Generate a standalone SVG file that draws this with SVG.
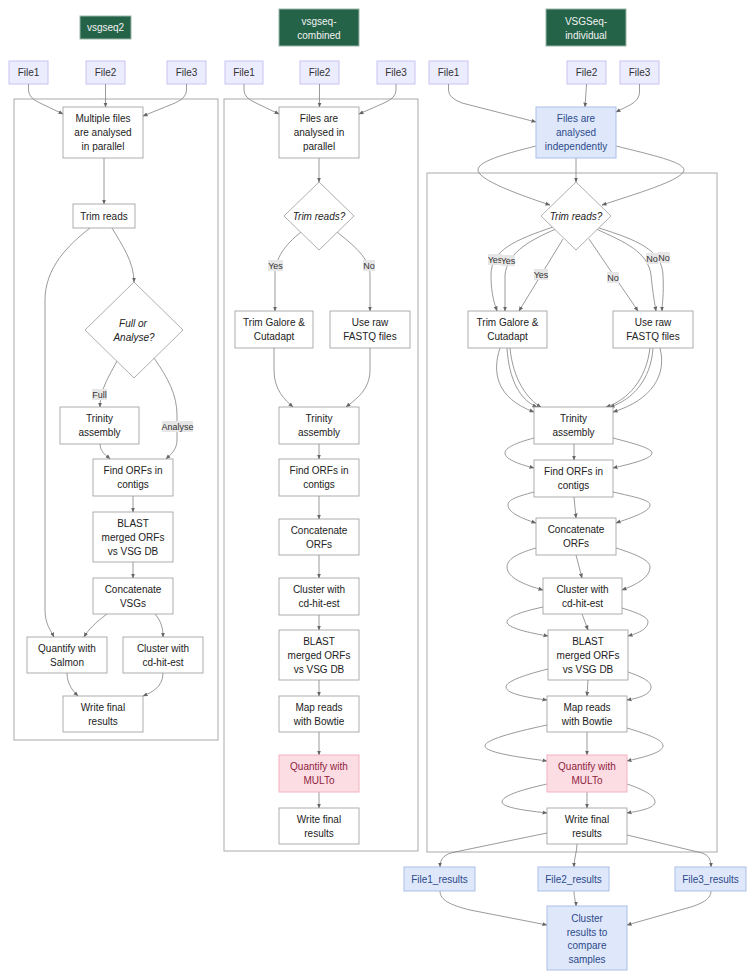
<svg xmlns="http://www.w3.org/2000/svg" width="756" height="980" viewBox="0 0 756 980">
<defs>
<marker id="ah" viewBox="0 0 10 10" refX="9" refY="5" markerWidth="5" markerHeight="5" markerUnits="userSpaceOnUse" orient="auto">
<path d="M0,1 L10,5 L0,9 z" fill="#666"/>
</marker>
</defs>
<style>
text{font-family:"Liberation Sans",Arial,sans-serif;font-size:10px;fill:#222;text-anchor:middle;dominant-baseline:central}
.title rect{fill:#246348;stroke:#9ab5a8;stroke-width:1}
.title text{fill:#f2f2f2}
.file rect{fill:#ececff;stroke:#c9c2f2;stroke-width:1}
.file text{fill:#333}
.cluster{fill:#fff;stroke:#aaa;stroke-width:1}
.n rect,.n polygon{fill:#fff;stroke:#999;stroke-width:0.8}
.d text{font-style:italic}
.blue rect{fill:#dfe8fb;stroke:#a9bfe8;stroke-width:1}
.blue text{fill:#2d4a8a}
.pink rect{fill:#fddde4;stroke:#f3b2c2;stroke-width:1}
.pink text{fill:#8e1d3e}
#edges path{fill:none;stroke:#808080;stroke-width:0.8;marker-end:url(#ah)}
.lbl rect{fill:#e6e6e6}
.lbl text{font-size:9px;fill:#333}
</style>
<rect width="756" height="980" fill="#fff"/>

<!-- clusters -->
<rect class="cluster" x="14" y="99" width="204" height="641"/>
<rect class="cluster" x="224" y="99" width="194" height="752"/>
<rect class="cluster" x="427" y="173" width="290" height="679"/>

<!-- titles -->
<g id="t1" class="title"><rect x="80" y="16" width="51" height="23"/><text x="105.5" y="27.5">vsgseq2</text></g>
<g id="t2" class="title"><rect x="279" y="9" width="80" height="37"/><text x="319" y="21">vsgseq-</text><text x="319" y="35">combined</text></g>
<g id="t3" class="title"><rect x="546" y="9" width="80" height="37"/><text x="586" y="21">VSGSeq-</text><text x="586" y="35">individual</text></g>

<!-- files -->
<g id="c1f1" class="file"><rect x="9" y="61" width="39" height="23"/><text x="28.5" y="72.5">File1</text></g>
<g id="c1f2" class="file"><rect x="86" y="61" width="39" height="23"/><text x="105.5" y="72.5">File2</text></g>
<g id="c1f3" class="file"><rect x="167" y="61" width="39" height="23"/><text x="186.5" y="72.5">File3</text></g>
<g id="c2f1" class="file"><rect x="225" y="61" width="38" height="23"/><text x="244" y="72.5">File1</text></g>
<g id="c2f2" class="file"><rect x="300" y="61" width="39" height="23"/><text x="319.5" y="72.5">File2</text></g>
<g id="c2f3" class="file"><rect x="377" y="61" width="38" height="23"/><text x="396" y="72.5">File3</text></g>
<g id="c3f1" class="file"><rect x="429" y="61" width="39" height="23"/><text x="448.5" y="72.5">File1</text></g>
<g id="c3f2" class="file"><rect x="567" y="61" width="39" height="23"/><text x="586.5" y="72.5">File2</text></g>
<g id="c3f3" class="file"><rect x="620" y="61" width="39" height="23"/><text x="639.5" y="72.5">File3</text></g>

<!-- edges -->
<g id="edges">
<!-- col1 -->
<path d="M28.5,84 V90 Q28.5,98 40,103 L63,114"/>
<path d="M105.5,84 V107"/>
<path d="M186.5,84 V90 Q186.5,98 175,103 L143,116"/>
<path d="M104,158 V204"/>
<path d="M90,228 C68,245 45,268 45,300 V610 C45,624 51,631 54,637"/>
<path d="M112,228 C122,245 134,262 134,282"/>
<path d="M117,361 C108,378 100,390 100,407"/>
<path d="M154,358 C168,378 177,395 177,415 V440 C177,450 170,455 166,459"/>
<path d="M100,444 C100,452 107,456 110,459"/>
<path d="M133,496 V512"/>
<path d="M133,562 V578"/>
<path d="M107,614 C96,622 88,630 84,637"/>
<path d="M155,614 C162,622 163,630 163,637"/>
<path d="M67,673 C67,685 74,692 78,696"/>
<path d="M163,673 C163,688 150,693 143,696"/>
<!-- col2 -->
<path d="M244,84 V90 Q244,98 256,103 L279,114"/>
<path d="M319.5,84 V107"/>
<path d="M396,84 V90 Q396,98 384,103 L359,114"/>
<path d="M319,158 V182"/>
<path d="M301,232 C285,245 275,258 275,275 V311"/>
<path d="M337,232 C353,245 370,258 370,275 V311"/>
<path d="M274,348 V370 C274,390 285,400 293,407"/>
<path d="M370,348 V370 C370,390 355,400 346,407"/>
<path d="M319,444 V459"/>
<path d="M319,496 V519"/>
<path d="M319,555 V578"/>
<path d="M319,615 V630"/>
<path d="M319,680 V696"/>
<path d="M319,732 V755"/>
<path d="M319,792 V808"/>
<!-- col3 -->
<path d="M448.5,84 V90 Q448.5,98 462,103 L536,122"/>
<path d="M586.5,84 L585,107"/>
<path d="M639.5,84 V92 Q639.5,100 630,105 L616,112"/>
<path d="M576,158 V182"/>
<path d="M536,146 C500,155 478,162 478,170 C478,180 520,195 550,205"/>
<path d="M616,146 C652,155 684,162 684,170 C684,180 632,195 602,205"/>
<path d="M553,227 C515,240 491,250 491,275 C491,295 495,305 497,311"/>
<path d="M556,229 C525,242 507,255 505,275 V311"/>
<path d="M563,239 L519,311"/>
<path d="M589,239 L638,311"/>
<path d="M596,229 C625,242 648,252 651,275 C653,295 655,305 656,311"/>
<path d="M599,228 C637,240 662,250 663,275 C664,295 662,305 662,311"/>
<path d="M500,348 C492,372 496,398 534,412"/>
<path d="M507,348 C509,380 520,400 537,407"/>
<path d="M510,348 C513,380 528,400 541,407"/>
<path d="M650,348 C646,380 628,400 606,407"/>
<path d="M653,348 C651,380 632,400 610,407"/>
<path d="M660,348 C667,375 652,400 613,412"/>
<path d="M574,444 V460"/>
<path d="M534,438 C515,443 505,448 505,453 C505,459 518,464 534,468"/>
<path d="M613,438 C632,443 652,448 652,453 C652,459 630,464 613,468"/>
<path d="M574,497 L576,518"/>
<path d="M534,492 C515,497 508,500 508,505 C508,512 520,518 536,523"/>
<path d="M613,492 C635,497 650,500 650,505 C650,512 630,518 616,523"/>
<path d="M576,555 L582,578"/>
<path d="M536,548 C515,554 507,560 507,567 C507,578 525,585 543,590"/>
<path d="M616,548 C635,554 650,560 650,567 C650,578 635,585 622,590"/>
<path d="M582,614 L588,630"/>
<path d="M543,607 C520,612 507,617 507,622 C507,628 530,633 548,636"/>
<path d="M622,608 C638,613 648,617 648,622 C648,628 640,633 628,636"/>
<path d="M588,680 L587,696"/>
<path d="M548,669 C520,676 506,682 506,687 C506,694 530,698 547,700"/>
<path d="M628,672 C645,678 651,682 651,687 C651,694 640,698 627,700"/>
<path d="M587,732 V755"/>
<path d="M547,725 C510,733 485,740 485,746 C485,753 525,758 547,761"/>
<path d="M627,728 C650,735 663,740 663,746 C663,753 640,758 627,761"/>
<path d="M587,792 V808"/>
<path d="M547,784 C520,790 502,796 502,802 C502,808 530,811 547,813"/>
<path d="M627,784 C645,790 655,796 655,802 C655,808 640,811 627,813"/>
<path d="M547,833 L455,852 C445,854 440,858 440,867"/>
<path d="M577,844 C577,852 574,858 574,867"/>
<path d="M627,835 L698,852 C708,854 711,858 711,867"/>
<path d="M440,891 C440,900 450,905 470,910 L547,925"/>
<path d="M574,891 C574,898 576,902 576,906"/>
<path d="M711,891 C711,900 700,905 680,910 L627,925"/>
</g>

<!-- edge labels -->
<g id="labels">
<g class="lbl"><rect x="92" y="389" width="15" height="11"/><text x="99.5" y="394.5">Full</text></g>
<g class="lbl"><rect x="162" y="421" width="31" height="11"/><text x="177.5" y="426.5">Analyse</text></g>
<g class="lbl"><rect x="268" y="260" width="15" height="11"/><text x="275.5" y="265.5">Yes</text></g>
<g class="lbl"><rect x="363" y="260" width="12" height="11"/><text x="369" y="265.5">No</text></g>
<g class="lbl"><rect x="488" y="254" width="14" height="11"/><text x="495" y="259.5">Yes</text></g>
<g class="lbl"><rect x="501" y="255" width="14" height="11"/><text x="508" y="260.5">Yes</text></g>
<g class="lbl"><rect x="534" y="269" width="14" height="11"/><text x="541" y="274.5">Yes</text></g>
<g class="lbl"><rect x="607" y="272" width="12" height="11"/><text x="613" y="277.5">No</text></g>
<g class="lbl"><rect x="646" y="253" width="12" height="11"/><text x="652" y="258.5">No</text></g>
<g class="lbl"><rect x="658" y="252" width="12" height="11"/><text x="664" y="257.5">No</text></g>
</g>

<!-- col1 nodes -->
<g id="c1multi" class="n"><rect x="63" y="107" width="80" height="51"/><text x="103" y="118.5">Multiple files</text><text x="103" y="132.5">are analysed</text><text x="103" y="146.5">in parallel</text></g>
<g id="c1trim" class="n"><rect x="73" y="204" width="62" height="24"/><text x="104" y="216">Trim reads</text></g>
<g id="c1dec" class="n d"><polygon points="134,282 183,330 134,378 85,330"/><text x="133" y="323">Full or</text><text x="134" y="337">Analyse?</text></g>
<g id="c1trinity" class="n"><rect x="60" y="407" width="79" height="37"/><text x="99.5" y="418.5">Trinity</text><text x="99.5" y="432.5">assembly</text></g>
<g id="c1orfs" class="n"><rect x="93" y="459" width="80" height="37"/><text x="133" y="470.5">Find ORFs in</text><text x="133" y="484.5">contigs</text></g>
<g id="c1blast" class="n"><rect x="93" y="512" width="80" height="50"/><text x="133" y="523">BLAST</text><text x="133" y="537">merged ORFs</text><text x="133" y="551">vs VSG DB</text></g>
<g id="c1concat" class="n"><rect x="93" y="578" width="80" height="36"/><text x="133" y="589">Concatenate</text><text x="133" y="603">VSGs</text></g>
<g id="c1salmon" class="n"><rect x="27" y="637" width="80" height="36"/><text x="67" y="648">Quantify with</text><text x="67" y="662">Salmon</text></g>
<g id="c1cdhit" class="n"><rect x="123" y="637" width="80" height="36"/><text x="163" y="648">Cluster with</text><text x="163" y="662">cd-hit-est</text></g>
<g id="c1write" class="n"><rect x="63" y="696" width="80" height="36"/><text x="103" y="707">Write final</text><text x="103" y="721">results</text></g>

<!-- col2 nodes -->
<g id="c2files" class="n"><rect x="279" y="107" width="80" height="51"/><text x="319" y="118.5">Files are</text><text x="319" y="132.5">analysed in</text><text x="319" y="146.5">parallel</text></g>
<g id="c2dec" class="n d"><polygon points="319,182 354,216 319,250 284,216"/><text x="319" y="216">Trim reads?</text></g>
<g id="c2galore" class="n"><rect x="235" y="311" width="78" height="37"/><text x="274" y="322.5">Trim Galore &amp;</text><text x="274" y="336.5">Cutadapt</text></g>
<g id="c2raw" class="n"><rect x="330" y="311" width="80" height="37"/><text x="370" y="322.5">Use raw</text><text x="370" y="336.5">FASTQ files</text></g>
<g id="c2trinity" class="n"><rect x="279" y="407" width="80" height="37"/><text x="319" y="418.5">Trinity</text><text x="319" y="432.5">assembly</text></g>
<g id="c2orfs" class="n"><rect x="279" y="459" width="80" height="37"/><text x="319" y="470.5">Find ORFs in</text><text x="319" y="484.5">contigs</text></g>
<g id="c2concat" class="n"><rect x="279" y="519" width="80" height="36"/><text x="319" y="530">Concatenate</text><text x="319" y="544">ORFs</text></g>
<g id="c2cdhit" class="n"><rect x="279" y="578" width="80" height="37"/><text x="319" y="589.5">Cluster with</text><text x="319" y="603.5">cd-hit-est</text></g>
<g id="c2blast" class="n"><rect x="279" y="630" width="80" height="50"/><text x="319" y="641">BLAST</text><text x="319" y="655">merged ORFs</text><text x="319" y="669">vs VSG DB</text></g>
<g id="c2map" class="n"><rect x="279" y="696" width="80" height="36"/><text x="319" y="707">Map reads</text><text x="319" y="721">with Bowtie</text></g>
<g id="c2multo" class="pink"><rect x="279" y="755" width="80" height="37"/><text x="319" y="766.5">Quantify with</text><text x="319" y="780.5">MULTo</text></g>
<g id="c2write" class="n"><rect x="279" y="808" width="80" height="36"/><text x="319" y="819">Write final</text><text x="319" y="833">results</text></g>

<!-- col3 nodes -->
<g id="c3files" class="blue"><rect x="536" y="107" width="80" height="51"/><text x="576" y="118.5">Files are</text><text x="576" y="132.5">analysed</text><text x="576" y="146.5">independently</text></g>
<g id="c3dec" class="n d"><polygon points="576,182 611,216 576,250 541,216"/><text x="576" y="216">Trim reads?</text></g>
<g id="c3galore" class="n"><rect x="468" y="311" width="79" height="37"/><text x="507.5" y="322.5">Trim Galore &amp;</text><text x="507.5" y="336.5">Cutadapt</text></g>
<g id="c3raw" class="n"><rect x="613" y="311" width="80" height="37"/><text x="653" y="322.5">Use raw</text><text x="653" y="336.5">FASTQ files</text></g>
<g id="c3trinity" class="n"><rect x="534" y="407" width="79" height="37"/><text x="573.5" y="418.5">Trinity</text><text x="573.5" y="432.5">assembly</text></g>
<g id="c3orfs" class="n"><rect x="534" y="460" width="79" height="37"/><text x="573.5" y="471.5">Find ORFs in</text><text x="573.5" y="485.5">contigs</text></g>
<g id="c3concat" class="n"><rect x="536" y="518" width="80" height="37"/><text x="576" y="529.5">Concatenate</text><text x="576" y="543.5">ORFs</text></g>
<g id="c3cdhit" class="n"><rect x="543" y="578" width="79" height="36"/><text x="582.5" y="589">Cluster with</text><text x="582.5" y="603">cd-hit-est</text></g>
<g id="c3blast" class="n"><rect x="548" y="630" width="80" height="50"/><text x="588" y="641">BLAST</text><text x="588" y="655">merged ORFs</text><text x="588" y="669">vs VSG DB</text></g>
<g id="c3map" class="n"><rect x="547" y="696" width="80" height="36"/><text x="587" y="707">Map reads</text><text x="587" y="721">with Bowtie</text></g>
<g id="c3multo" class="pink"><rect x="547" y="755" width="80" height="37"/><text x="587" y="766.5">Quantify with</text><text x="587" y="780.5">MULTo</text></g>
<g id="c3write" class="n"><rect x="547" y="808" width="80" height="36"/><text x="587" y="819">Write final</text><text x="587" y="833">results</text></g>

<!-- results -->
<g id="r1" class="blue"><rect x="404" y="867" width="71" height="24"/><text x="439.5" y="879">File1_results</text></g>
<g id="r2" class="blue"><rect x="538" y="867" width="71" height="24"/><text x="573.5" y="879">File2_results</text></g>
<g id="r3" class="blue"><rect x="675" y="867" width="71" height="24"/><text x="710.5" y="879">File3_results</text></g>
<g id="rc" class="blue"><rect x="547" y="906" width="80" height="64"/><text x="587" y="918">Cluster</text><text x="587" y="932">results to</text><text x="587" y="945.5">compare</text><text x="587" y="959">samples</text></g>
</svg>
